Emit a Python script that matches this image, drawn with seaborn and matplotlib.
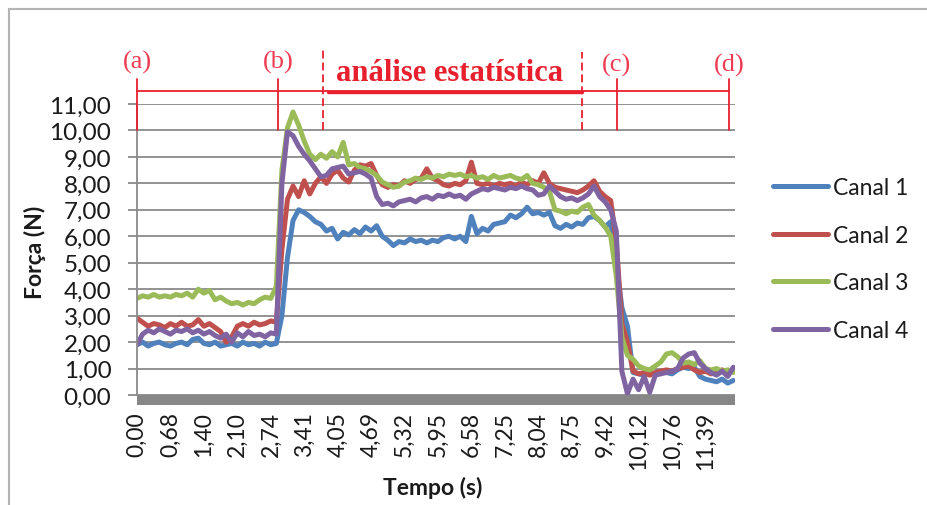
import numpy as np
import pandas as pd
import matplotlib
matplotlib.use("Agg")
import matplotlib.pyplot as plt
import seaborn as sns
from matplotlib.patches import Rectangle
from matplotlib.lines import Line2D

# Time labels shown on the category axis (one label every 6 samples)
tick_labels = ["0,00", "0,68", "1,40", "2,10", "2,74", "3,41", "4,05", "4,69",
               "5,32", "5,95", "6,58", "7,25", "8,04", "8,75", "9,42", "10,12",
               "10,76", "11,39"]
samples_per_label = 6

series_names = ["Canal 1", "Canal 2", "Canal 3", "Canal 4"]

canal_1 = [1.90, 2.00, 1.85, 1.95, 2.00, 1.90, 1.85, 1.95, 2.00, 1.90, 2.10, 2.15, 1.95,
           1.90, 2.00, 1.85, 1.90, 1.95, 1.85, 2.00, 1.90, 1.95, 1.85, 2.00, 1.90, 1.95,
           3.00, 5.20, 6.60, 7.00, 6.90, 6.75, 6.55, 6.45, 6.20, 6.30,
           5.90, 6.15, 6.05, 6.25, 6.10, 6.35, 6.20, 6.40, 6.00, 5.85,
           5.65, 5.80, 5.75, 5.90, 5.80, 5.85, 5.75, 5.85, 5.80, 5.95,
           6.00, 5.90, 6.00, 5.80, 6.75, 6.10, 6.30, 6.20, 6.45, 6.50,
           6.55, 6.80, 6.70, 6.85, 7.10, 6.85, 6.90, 6.80, 6.90, 6.40,
           6.30, 6.45, 6.35, 6.50, 6.45, 6.70, 6.75, 6.60, 6.35, 6.55,
           5.00, 3.30, 2.60, 0.85, 0.80, 0.75, 0.85, 0.80, 0.90, 0.85,
           0.80, 0.95, 1.05, 1.00, 1.05, 0.70, 0.60, 0.55, 0.50, 0.60, 0.45, 0.55]

canal_2 = [2.90, 2.75, 2.60, 2.70, 2.65, 2.55, 2.70, 2.60, 2.75, 2.60, 2.65, 2.85, 2.60,
           2.70, 2.55, 2.40, 2.00, 2.20, 2.60, 2.70, 2.60, 2.75, 2.65, 2.70, 2.80, 2.75,
           5.50, 7.40, 7.90, 7.50, 8.10, 7.60, 8.00, 8.25, 8.00, 8.35,
           8.50, 8.20, 8.05, 8.50, 8.70, 8.65, 8.75, 8.30, 7.95, 7.85,
           7.95, 7.90, 8.10, 8.00, 8.15, 8.20, 8.55, 8.20, 8.10, 7.95,
           7.90, 8.00, 7.95, 8.10, 8.80, 8.00, 7.95, 8.00, 7.90, 8.00,
           7.95, 8.00, 7.90, 8.05, 7.95, 8.10, 8.00, 8.40, 8.00, 7.85,
           7.80, 7.75, 7.70, 7.65, 7.75, 7.90, 8.10, 7.70, 7.50, 7.35,
           5.80, 2.70, 2.00, 0.90, 0.80, 0.85, 0.75, 0.85, 0.90, 0.95,
           0.90, 1.00, 1.05, 1.10, 0.95, 0.85, 0.90, 0.80, 0.85, 0.95, 0.80, 1.00]

canal_3 = [3.65, 3.75, 3.70, 3.80, 3.70, 3.75, 3.70, 3.80, 3.75, 3.85, 3.70, 4.00, 3.85,
           3.95, 3.60, 3.70, 3.55, 3.45, 3.50, 3.40, 3.50, 3.45, 3.60, 3.70, 3.65, 4.10,
           8.50, 10.10, 10.70, 10.20, 9.60, 9.10, 8.90, 9.10, 8.95, 9.20,
           9.00, 9.55, 8.70, 8.75, 8.60, 8.55, 8.45, 8.30, 8.05, 7.95,
           7.85, 7.90, 8.05, 8.10, 8.20, 8.15, 8.25, 8.20, 8.30, 8.25,
           8.35, 8.30, 8.35, 8.25, 8.30, 8.20, 8.25, 8.15, 8.30, 8.20,
           8.25, 8.30, 8.20, 8.15, 8.30, 8.00, 7.95, 7.85, 7.70, 7.00,
           6.95, 6.85, 6.95, 6.90, 7.10, 7.20, 6.80, 6.60, 6.35, 6.00,
           4.50, 2.20, 1.50, 1.35, 1.10, 1.00, 0.95, 1.10, 1.25, 1.55,
           1.60, 1.45, 1.20, 1.25, 1.15, 1.30, 1.00, 0.95, 1.00, 0.90, 0.95, 0.85]

canal_4 = [1.90, 2.30, 2.45, 2.35, 2.50, 2.40, 2.30, 2.45, 2.40, 2.50, 2.35, 2.45, 2.30,
           2.40, 2.25, 2.15, 2.30, 2.00, 2.35, 2.20, 2.40, 2.25, 2.30, 2.20, 2.35, 2.30,
           8.00, 9.95, 9.80, 9.40, 9.10, 8.85, 8.55, 8.25, 8.30, 8.55,
           8.60, 8.65, 8.35, 8.40, 8.45, 8.35, 8.20, 7.50, 7.20, 7.25,
           7.15, 7.30, 7.35, 7.40, 7.30, 7.45, 7.50, 7.40, 7.55, 7.50,
           7.60, 7.50, 7.55, 7.40, 7.60, 7.70, 7.80, 7.75, 7.85, 7.80,
           7.75, 7.85, 7.80, 7.90, 7.80, 7.75, 7.55, 7.60, 7.90, 7.70,
           7.50, 7.40, 7.45, 7.35, 7.45, 7.60, 7.90, 7.50, 7.30, 7.00,
           6.20, 0.90, 0.05, 0.60, 0.20, 0.70, 0.10, 0.75, 0.80, 0.85,
           0.90, 1.00, 1.40, 1.55, 1.60, 1.20, 1.00, 0.85, 0.75, 0.90, 0.70, 1.05]

colors = ["#4F81BD", "#C0504D", "#9BBB59", "#8064A2"]

n = len(canal_1)
df = pd.DataFrame({
    "amostra": np.tile(np.arange(n), 4),
    "forca": np.concatenate([canal_1, canal_2, canal_3, canal_4]),
    "canal": np.repeat(series_names, n),
})

sns.set_theme(style="white")
plt.rcParams["font.family"] = ["Lato", "DejaVu Sans"]

W, H = 927, 506
fig = plt.figure(figsize=(W / 100, H / 100), dpi=100)
fig.patch.set_facecolor("white")

left, right, top, bottom = 137, 735, 105, 396
ax = fig.add_axes([left / W, 1 - bottom / H, (right - left) / W, (bottom - top) / H])
ax.set_axisbelow(True)

sns.lineplot(data=df, x="amostra", y="forca", hue="canal", palette=colors,
             linewidth=3.6, errorbar=None, ax=ax, solid_joinstyle="round",
             solid_capstyle="round")

grid_col = "#8a8a8a"
text_col = "#1a1a1a"
ax.set_xlim(0, n - 0.7)
ax.set_ylim(0, 11)
ax.set_yticks(range(0, 12))
ax.set_yticklabels([f"{v:.2f}".replace(".", ",") for v in range(0, 12)])
ax.set_xticks(range(0, n, samples_per_label))
ax.set_xticklabels(tick_labels, rotation=90)
ax.yaxis.grid(True, color=grid_col, lw=1.3)
ax.xaxis.grid(False)
for s in ["top", "right", "bottom"]:
    ax.spines[s].set_visible(False)
ax.spines["left"].set_color(grid_col)
ax.spines["left"].set_linewidth(1.3)
ax.tick_params(axis="y", length=6.5, width=1.3, color=grid_col, pad=12,
               labelsize=17.5, labelcolor=text_col, left=True)
ax.tick_params(axis="x", length=0, pad=11.5, labelsize=16.5, labelcolor=text_col)
ax.set_xlabel("")
ax.set_ylabel("")

# thick grey floor under the zero line
ax.add_patch(Rectangle((0, -10 / (bottom - top)), 1, 10 / (bottom - top),
                       transform=ax.transAxes, clip_on=False,
                       facecolor="#878787", edgecolor="none", zorder=3))

fig.text(433 / W, 1 - 488 / H, "Tempo (s)", ha="center", va="center",
         fontsize=16.5, fontweight="bold", color=text_col)
fig.text(35 / W, 1 - 252 / H, "Força (N)", ha="center", va="center",
         rotation=90, fontsize=16.5, fontweight="bold", color=text_col)

handles, labels = ax.get_legend_handles_labels()
ax.legend(handles, labels, loc="center left",
          bbox_to_anchor=(773 / W, 1 - 260 / H), bbox_transform=fig.transFigure,
          frameon=False, fontsize=16.5, handlelength=2.4, handletextpad=0.2,
          labelspacing=1.15, borderpad=0, borderaxespad=0)
for t in ax.get_legend().get_texts():
    t.set_color(text_col)

# phase markers above the plot
red = "#E8202E"
label_red = "#EE3B52"
serif = ["Liberation Serif", "DejaVu Serif"]
marks = {"(a)": 0.0, "(b)": 25.3, "(c)": 86.1, "(d)": 106.3}
for lab, xv in marks.items():
    ax.plot([xv, xv], [10.0, 11.95], color=red, lw=1.3, clip_on=False, zorder=5)
    yv = 12.6 if lab in ("(a)", "(b)") else 12.5
    ax.text(xv, yv, lab, color=label_red, fontsize=19, family=serif,
            ha="center", va="center", clip_on=False)
ax.plot([0, 106.3], [11.5, 11.5], color=red, lw=1.3, clip_on=False, zorder=5)
for xv, ytop in [(33.4, 13.1), (79.85, 12.95)]:
    ax.plot([xv, xv], [10.0, ytop], color=red, lw=1.3, ls=(0, (4.4, 2.2)),
            clip_on=False, zorder=5)
ax.plot([34.2, 79.85], [11.45, 11.45], color=red, lw=2.4, clip_on=False, zorder=6)
ax.text(56.0, 12.2, "análise estatística", color=red, fontsize=22,
        fontweight="bold", family=serif, ha="center", va="center", clip_on=False)

# outer frame of the chart area
frame_col = "#b4b4b4"
fig.add_artist(Line2D([9 / W, 9 / W], [0, 1 - 10 / H], transform=fig.transFigure,
                      color=frame_col, lw=1.5))
fig.add_artist(Line2D([9 / W, 1], [1 - 10 / H, 1 - 10 / H], transform=fig.transFigure,
                      color=frame_col, lw=1.5))

fig.savefig("out.png", dpi=100, facecolor="white")
